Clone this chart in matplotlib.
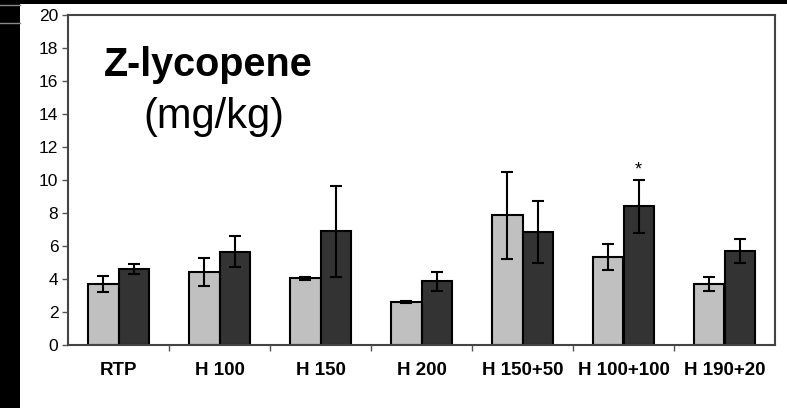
import matplotlib
matplotlib.use("Agg")
import matplotlib.pyplot as plt
from matplotlib.patches import Rectangle
from matplotlib.lines import Line2D
import numpy as np

categories = ["RTP", "H 100", "H 150", "H 200", "H 150+50", "H 100+100", "H 190+20"]
light_vals = [3.7, 4.4, 4.05, 2.6, 7.85, 5.35, 3.7]
light_err = [0.5, 0.85, 0.1, 0.05, 2.65, 0.8, 0.45]
dark_vals = [4.6, 5.65, 6.9, 3.85, 6.85, 8.4, 5.7]
dark_err = [0.3, 0.95, 2.75, 0.6, 1.85, 1.6, 0.72]
star_group = 5
star_y = 10.35

font = "Liberation Sans"

fig = plt.figure(figsize=(7.87, 4.08), dpi=100)
fig.patch.set_facecolor("white")
ax = fig.add_axes([68/787, 1-345/408, (775-68)/787, (345-15)/408])

x = np.arange(len(categories))
w = 0.3
ax.bar(x - w/2, light_vals, w, color="#c0c0c0", edgecolor="black", linewidth=1.5, zorder=2)
ax.bar(x + w/2, dark_vals, w, color="#333333", edgecolor="black", linewidth=1.5, zorder=2)
ax.errorbar(x - w/2, light_vals, yerr=light_err, fmt="none", ecolor="black",
            elinewidth=1.5, capsize=4, capthick=1.5, zorder=3)
ax.errorbar(x + w/2, dark_vals, yerr=dark_err, fmt="none", ecolor="black",
            elinewidth=1.5, capsize=4, capthick=1.5, zorder=3)
ax.text(x[star_group] + w/2, star_y, "*", ha="center", va="baseline",
        fontsize=13, family=font)

ax.set_xlim(-0.5, len(categories) - 0.5)
ax.set_ylim(0, 20)
ax.set_yticks(np.arange(0, 21, 2))
ax.set_yticklabels([str(v) for v in range(0, 21, 2)], family=font, fontsize=12.5)
ax.set_xticks(x)
ax.set_xticklabels(categories, family=font, fontweight="bold", fontsize=13.5)
ax.set_xticks(np.arange(0.5, len(categories) - 0.5, 1), minor=True)
ax.tick_params(axis="x", which="major", length=0, pad=12)
ax.tick_params(axis="x", which="minor", length=4, width=1, color="#555555", direction="out")
ax.tick_params(axis="y", length=4, width=1, color="#555555", direction="out", pad=3)
for s in ax.spines.values():
    s.set_color("#444444")
    s.set_linewidth(1.5)

fig.text(104/787, 1-76/408, "Z-lycopene", family=font, fontweight="bold",
         fontsize=28.5, ha="left", va="baseline")
fig.text(143/787, 1-128/408, "(mg/kg)", family=font, fontsize=30,
         ha="left", va="baseline")

# black border remnants
fig.patches.append(Rectangle((0, 0), 20/787, 1, transform=fig.transFigure,
                             facecolor="black", edgecolor="none", zorder=0))
fig.patches.append(Rectangle((0, 1-4/408), 1, 4/408, transform=fig.transFigure,
                             facecolor="black", edgecolor="none", zorder=0))
for yy in (5, 23):
    fig.lines.append(Line2D([0, 20/787], [1-yy/408, 1-yy/408], transform=fig.transFigure,
                            color="#888888", linewidth=1))

fig.savefig("out.png", dpi=100)
